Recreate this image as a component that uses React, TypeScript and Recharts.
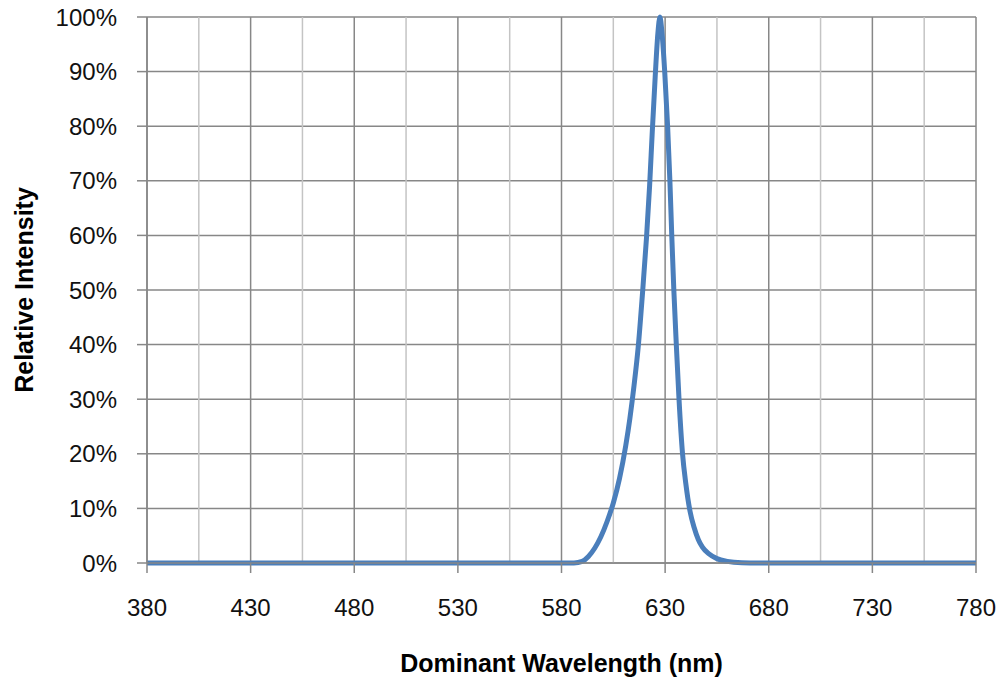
import React from 'react';
import { LineChart, Line, XAxis, YAxis, CartesianGrid, ReferenceLine, Label } from 'recharts';

const wavelengths = [380, 430, 480, 530, 580, 586, 590, 593, 596, 599, 602, 605, 608, 611, 613, 615, 617, 619, 621, 622.5, 623.8, 625.2, 626.5, 627.5, 628.5, 629.8, 631.2, 632.3, 633.2, 634.2, 635.4, 636.7, 638.4, 640, 642, 644, 646, 648, 651, 655, 660, 667, 675, 730, 780];
const intensities = [0, 0, 0, 0, 0, 0, 0.3, 1.2, 2.7, 4.8, 7.6, 11, 15.5, 21.5, 26.5, 32.5, 39.5, 49, 59.5, 69, 79, 89, 97, 100, 97, 90, 80, 70, 60, 50, 40, 30, 20, 14.5, 9.5, 6.5, 4.3, 2.9, 1.7, 0.8, 0.3, 0.05, 0, 0, 0];

const xTicks = [380, 430, 480, 530, 580, 630, 680, 730, 780];
const xMinorGrid = [405, 455, 505, 555, 605, 655, 705, 755];
const yTicks = [0, 10, 20, 30, 40, 50, 60, 70, 80, 90, 100];

const data = wavelengths.map((w, i) => ({ w, v: intensities[i] }));

const FONT = '"Liberation Sans", Arial, sans-serif';
const MAJOR = '#878787';
const MINOR = '#c4c4c4';

export default function App() {
  return (
    <div style={{ position: 'absolute', left: 0, top: 0, background: '#fff' }}>
      <LineChart width={1000} height={681} data={data} margin={{ top: 17, right: 24, bottom: 0, left: 0 }}>
        <CartesianGrid stroke={MAJOR} strokeWidth={1.5} vertical horizontal />
        {xMinorGrid.map((x) => (
          <ReferenceLine key={x} x={x} stroke={MINOR} strokeWidth={1.5} />
        ))}
        <XAxis
          dataKey="w"
          type="number"
          domain={[380, 780]}
          ticks={xTicks}
          allowDataOverflow
          height={118}
          tickSize={10}
          tickMargin={26}
          stroke={MAJOR}
          tick={{ fontSize: 24, fill: '#111', fontFamily: FONT }}
          axisLine={{ stroke: MAJOR, strokeWidth: 1.5 }}
          tickLine={{ stroke: MAJOR, strokeWidth: 1.5 }}
        >
          <Label
            value="Dominant Wavelength (nm)"
            position="insideBottom"
            offset={9}
            style={{ fontWeight: 'bold', fontSize: 25, fill: '#000', fontFamily: FONT }}
          />
        </XAxis>
        <YAxis
          type="number"
          domain={[0, 100]}
          ticks={yTicks}
          width={147}
          tickSize={10}
          tickMargin={20}
          tickFormatter={(v) => `${v}%`}
          tick={{ fontSize: 24, fill: '#111', fontFamily: FONT }}
          axisLine={{ stroke: MAJOR, strokeWidth: 1.5 }}
          tickLine={{ stroke: MAJOR, strokeWidth: 1.5 }}
        >
          <Label
            value="Relative Intensity"
            position="insideLeft"
            angle={-90}
            offset={24}
            style={{ fontWeight: 'bold', fontSize: 25, fill: '#000', fontFamily: FONT, textAnchor: 'middle' }}
          />
        </YAxis>
        <Line
          type="monotone"
          dataKey="v"
          stroke="#4A7EBB"
          strokeWidth={5}
          dot={false}
          isAnimationActive={false}
        />
      </LineChart>
    </div>
  );
}
